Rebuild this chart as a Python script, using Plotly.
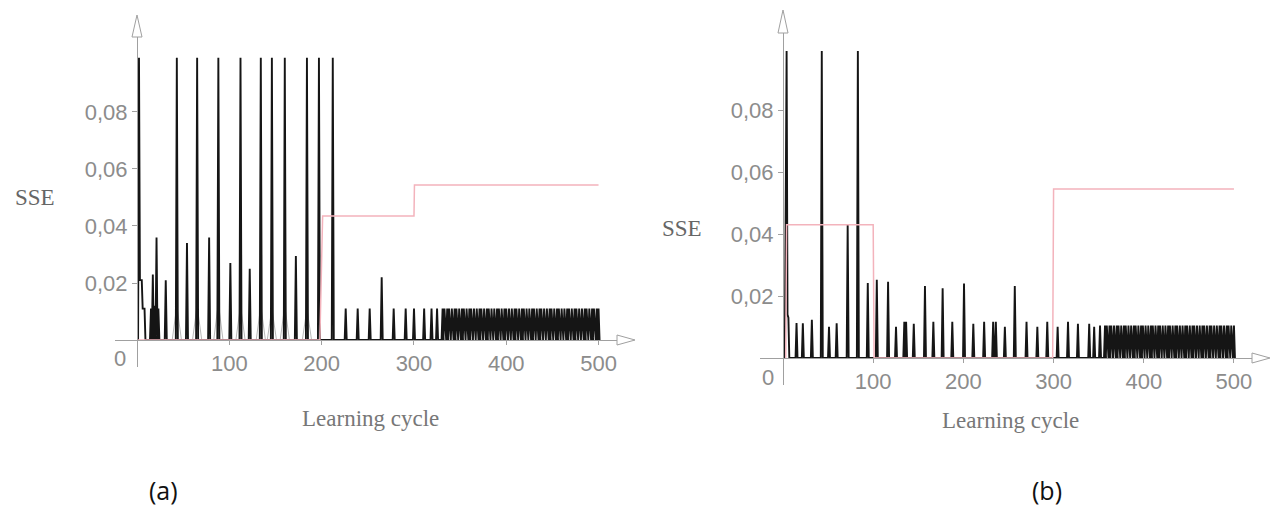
import plotly.graph_objects as go

W, H = 1274, 508

# ---------------- data: panel (a) ----------------
a_head_x = [1, 2, 3, 5, 6, 8, 9]
a_head_y = [0, 0.099, 0.021, 0.021, 0.011, 0.011, 0]
a_tall_pos = [43, 65, 88, 112, 134, 146, 160, 184, 197, 212]
a_tall_h = [0.099] * len(a_tall_pos)
a_small_pos = [15, 17, 19, 21, 23, 31, 54, 78, 101, 122, 172,
               226, 239, 252, 265, 278, 291, 300, 311, 319, 325]
a_small_h = [0.011, 0.023, 0.012, 0.036, 0.011, 0.021, 0.034, 0.036, 0.027, 0.025, 0.0295,
             0.011, 0.011, 0.011, 0.022, 0.011, 0.011, 0.011, 0.011, 0.011, 0.011]
a_dense_pos = [331, 333, 336, 338, 341, 344, 346, 349, 352, 354, 357, 360, 362, 365, 368,
               371, 373, 376, 379, 381, 384, 387, 390, 392, 395, 398, 400, 403, 406, 409,
               411, 414, 417, 419, 422, 425, 428, 430, 433, 436, 438, 441, 444, 447, 449,
               452, 455, 457, 460, 463, 466, 468, 471, 474, 476, 479, 482, 485, 487, 490,
               493, 495, 498, 500]
a_dense_h = [0.011] * len(a_dense_pos)
a_gray_pos = [43, 65, 88, 112, 134, 146, 160, 184]
a_gray_h = [0.012, 0.012, 0.013, 0.012, 0.012, 0.011, 0.012, 0.011]
a_lr_x = [0, 198, 201, 300, 300.5, 500]
a_lr_y = [0, 0, 0.0435, 0.0435, 0.0544, 0.0544]

# ---------------- data: panel (b) ----------------
b_head_x = [2, 4, 5, 6, 7]
b_head_y = [0, 0.099, 0.014, 0.013, 0]
b_tall_pos = [43, 83]
b_tall_h = [0.099, 0.099]
b_small_pos = [15, 22, 32, 51, 59.5, 71.7, 94, 104, 116.5, 125.3, 134.5, 136.5, 145, 157.4,
               166.7, 177, 187.7, 200.7, 211, 223, 233, 236, 246, 257, 270, 282, 293,
               304.5, 316, 327, 339.5, 345, 351.5]
b_small_h = [0.0113, 0.0112, 0.0123, 0.0101, 0.0112, 0.0429, 0.0242, 0.0252, 0.0246, 0.0101,
             0.0117, 0.0117, 0.011, 0.0232, 0.0117, 0.0225, 0.0117, 0.024, 0.011, 0.0117,
             0.0117, 0.0117, 0.0101, 0.0232, 0.0117, 0.0101, 0.0117, 0.0101, 0.0117, 0.011,
             0.011, 0.0101, 0.0105]
b_dense_pos = [357, 359, 362, 364, 367, 370, 372, 375, 378, 380, 383, 386, 389, 391, 394,
               397, 399, 402, 405, 408, 410, 413, 416, 418, 421, 424, 427, 429, 432, 435,
               437, 440, 443, 446, 448, 451, 454, 456, 459, 462, 465, 467, 470, 473, 475,
               478, 481, 484, 486, 489, 492, 494, 497, 500]
b_dense_h = [0.0105] * len(b_dense_pos)
b_lr_x = [3, 4, 100, 101, 299, 300, 500]
b_lr_y = [0, 0.043, 0.043, 0, 0, 0.0545, 0.0545]

x_ticks = [100, 200, 300, 400, 500]
x_tick_text = ["100", "200", "300", "400", "500"]
y_ticks = [0.02, 0.04, 0.06, 0.08]
y_tick_text = ["0,02", "0,04", "0,06", "0,08"]


def build(head_x, head_y, groups, end, hw=1.1):
    pts = []
    for pos, hts in groups:
        pts += list(zip(pos, hts))
    pts.sort()
    xs, ys = list(head_x), list(head_y)
    for p, h in pts:
        xs += [p - hw, p, p + hw]
        ys += [0, h, 0]
    xs.append(end)
    ys.append(0)
    return xs, ys


def build_gray(pos, hts, hw=5):
    xs, ys = [], []
    for p, h in zip(pos, hts):
        xs += [p - hw, p, p + hw, None]
        ys += [0, h, 0, None]
    return xs, ys


ax_, ay_ = build(a_head_x, a_head_y, [(a_tall_pos, a_tall_h), (a_small_pos, a_small_h),
                                      (a_dense_pos, a_dense_h)], 500)
bx_, by_ = build(b_head_x, b_head_y, [(b_tall_pos, b_tall_h), (b_small_pos, b_small_h),
                                      (b_dense_pos, b_dense_h)], 500)
gx_, gy_ = build_gray(a_gray_pos, a_gray_h)

BLACK = "#151515"
PINK = "#f3b3bc"
GRAY_AX = "#a0a0a0"
TICKC = "#8c8c8c"

fig = go.Figure()
fig.add_trace(go.Scatter(x=gx_, y=gy_, mode="lines", line=dict(color="#b8b8b8", width=1),
                         xaxis="x", yaxis="y", hoverinfo="skip"))
fig.add_trace(go.Scatter(x=ax_, y=ay_, mode="lines", line=dict(color=BLACK, width=1.9),
                         xaxis="x", yaxis="y"))
fig.add_trace(go.Scatter(x=a_lr_x, y=a_lr_y, mode="lines", line=dict(color=PINK, width=1.5),
                         xaxis="x", yaxis="y"))
fig.add_trace(go.Scatter(x=bx_, y=by_, mode="lines", line=dict(color=BLACK, width=1.9),
                         xaxis="x2", yaxis="y2"))
fig.add_trace(go.Scatter(x=b_lr_x, y=b_lr_y, mode="lines", line=dict(color=PINK, width=1.5),
                         xaxis="x2", yaxis="y2"))


def px(x):
    return x / W


def py(y):
    return 1 - y / H


tickfont = dict(family="Liberation Sans, Arial", size=22, color=TICKC)


def xaxis_cfg(x_left, x_right, axis_y, rng):
    return dict(domain=[px(x_left), px(x_right)], range=rng, anchor="free", position=py(axis_y),
                showline=True, linecolor=GRAY_AX, linewidth=1, ticks="outside", ticklen=4,
                tickcolor=GRAY_AX, tickvals=x_ticks, ticktext=x_tick_text, tickfont=tickfont,
                showgrid=False, zeroline=False, fixedrange=True)


def yaxis_cfg(y_bottom, y_top, axis_x, rng):
    return dict(domain=[py(y_bottom), py(y_top)], range=rng, anchor="free", position=px(axis_x),
                showline=True, linecolor=GRAY_AX, linewidth=1, ticks="outside", ticklen=5,
                tickcolor=GRAY_AX, tickvals=y_ticks, ticktext=y_tick_text, tickfont=tickfont,
                showgrid=False, zeroline=False, fixedrange=True)


def arrow_up(x, tip, base, hw=5):
    return dict(type="path", xref="paper", yref="paper",
                path=f"M {px(x-hw)},{py(base)} L {px(x)},{py(tip)} L {px(x+hw)},{py(base)} Z",
                line=dict(color=GRAY_AX, width=1), fillcolor="white")


def arrow_right(y, base, tip, hw=5):
    return dict(type="path", xref="paper", yref="paper",
                path=f"M {px(base)},{py(y-hw)} L {px(tip)},{py(y)} L {px(base)},{py(y+hw)} Z",
                line=dict(color=GRAY_AX, width=1), fillcolor="white")


serif = "Liberation Serif, Times New Roman"
ann = []
ann.append(dict(x=px(120), y=py(358), text="0", font=tickfont))
ann.append(dict(x=px(768), y=py(377), text="0", font=tickfont))
ann.append(dict(x=px(35), y=py(197), text="SSE", font=dict(family=serif, size=23, color="#666")))
ann.append(dict(x=px(682), y=py(228), text="SSE", font=dict(family=serif, size=23, color="#666")))
ann.append(dict(x=px(370), y=py(418), text="Learning cycle", font=dict(family=serif, size=23, color="#777")))
ann.append(dict(x=px(1010), y=py(420), text="Learning cycle", font=dict(family=serif, size=23, color="#777")))
ann.append(dict(x=px(163), y=py(490), text="(a)", font=dict(family="Open Sans, Liberation Sans", size=25, color="#111")))
ann.append(dict(x=px(1047), y=py(490), text="(b)", font=dict(family="Open Sans, Liberation Sans", size=25, color="#111")))
for a in ann:
    a.update(xref="paper", yref="paper", showarrow=False, xanchor="center", yanchor="middle")

fig.update_layout(
    width=W, height=H, autosize=False, margin=dict(l=0, r=0, t=0, b=0, pad=0),
    paper_bgcolor="white", plot_bgcolor="rgba(0,0,0,0)", showlegend=False,
    xaxis=xaxis_cfg(115, 617, 340, [-24, 520]),
    yaxis=yaxis_cfg(367, 37, 137, [-0.00947, 0.1063]),
    xaxis2=xaxis_cfg(760, 1252, 358, [-25.5, 520]),
    yaxis2=yaxis_cfg(385, 33, 783, [-0.00871, 0.10484]),
    shapes=[arrow_up(137, 15, 37), arrow_right(340, 617, 635),
            arrow_up(783, 10, 33), arrow_right(358, 1252, 1270)],
    annotations=ann,
)

fig.write_html("out.html")
